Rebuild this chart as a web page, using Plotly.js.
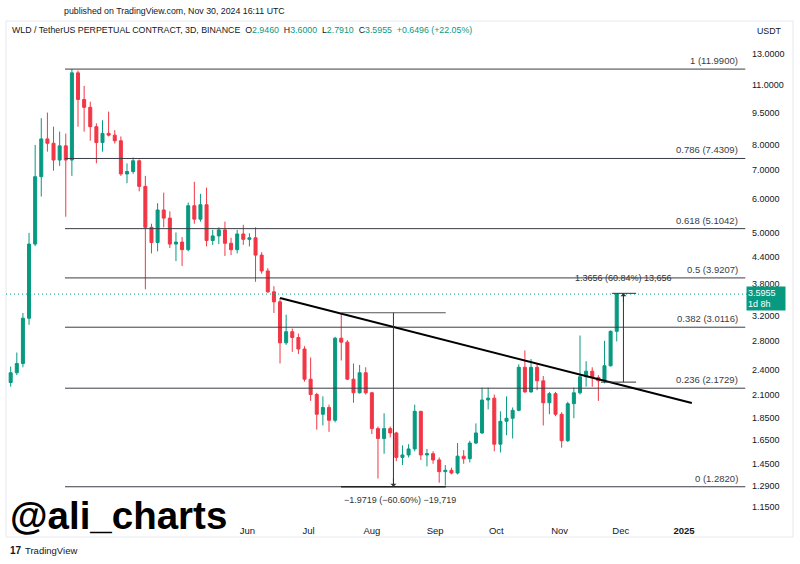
<!DOCTYPE html>
<html>
<head>
<meta charset="utf-8">
<script src="https://cdn.plot.ly/plotly-3.0.1.min.js"></script>
<style>
html,body{margin:0;padding:0;background:#fff;}
#chart{width:800px;height:564px;}
</style>
</head>
<body>
<div id="chart"></div>
<script>
// ---- Data (WLD/USDT perpetual, 3D candles) ----
const dates = [
 '2024-02-06','2024-02-09','2024-02-12','2024-02-15','2024-02-18','2024-02-21','2024-02-24','2024-02-27',
 '2024-03-01','2024-03-04','2024-03-07','2024-03-10','2024-03-13','2024-03-16','2024-03-19','2024-03-22',
 '2024-03-25','2024-03-28','2024-03-31','2024-04-03','2024-04-06','2024-04-09','2024-04-12','2024-04-15',
 '2024-04-18','2024-04-21','2024-04-24','2024-04-27','2024-04-30','2024-05-03','2024-05-06','2024-05-09',
 '2024-05-12','2024-05-15','2024-05-18','2024-05-21','2024-05-24','2024-05-27','2024-05-30','2024-06-02',
 '2024-06-05','2024-06-08','2024-06-11','2024-06-14','2024-06-17','2024-06-20','2024-06-23','2024-06-26',
 '2024-06-29','2024-07-02','2024-07-05','2024-07-08','2024-07-11','2024-07-14','2024-07-17','2024-07-20',
 '2024-07-23','2024-07-26','2024-07-29','2024-08-01','2024-08-04','2024-08-07','2024-08-10','2024-08-13',
 '2024-08-16','2024-08-19','2024-08-22','2024-08-25','2024-08-28','2024-08-31','2024-09-03','2024-09-06',
 '2024-09-09','2024-09-12','2024-09-15','2024-09-18','2024-09-21','2024-09-24','2024-09-27','2024-09-30',
 '2024-10-03','2024-10-06','2024-10-09','2024-10-12','2024-10-15','2024-10-18','2024-10-21','2024-10-24',
 '2024-10-27','2024-10-30','2024-11-02','2024-11-05','2024-11-08','2024-11-11','2024-11-14','2024-11-17',
 '2024-11-20','2024-11-23','2024-11-26','2024-11-29'
];
const openP = [
 2.24,2.36,2.48,3.16,4.70,6.74,8.25,8.06,7.37,7.95,
 7.37,11.75,10.19,9.77,8.81,8.09,8.50,8.42,8.17,6.84,
 6.93,7.34,6.40,5.14,4.74,5.64,5.40,4.70,4.75,4.56,
 5.77,5.37,5.80,4.79,4.91,5.07,4.72,4.56,4.96,4.82,
 4.86,4.43,4.07,3.64,3.45,2.77,2.94,2.85,2.68,2.28,
 2.10,1.89,1.96,1.83,2.84,2.78,2.28,2.12,2.36,2.12,
 1.75,1.66,1.75,1.71,1.50,1.52,1.57,1.92,1.52,1.53,
 1.48,1.39,1.40,1.38,1.51,1.49,1.62,1.71,2.04,2.06,
 1.61,1.82,1.85,1.93,2.43,2.13,2.43,2.26,2.01,2.11,
 1.89,1.64,2.00,2.12,2.31,2.38,2.30,2.26,2.45,2.946
];
const highP = [
 2.44,2.63,3.25,4.99,7.99,9.22,9.50,8.81,8.58,8.49,
 11.99,11.90,10.96,10.07,8.97,9.12,9.55,8.65,8.36,7.24,
 7.47,7.39,6.77,5.24,5.85,6.19,5.60,5.00,4.88,5.87,
 6.56,6.15,6.36,5.07,5.14,5.30,4.86,5.07,5.21,4.98,
 5.14,4.50,4.13,3.75,3.52,3.22,2.99,2.91,2.72,2.56,
 2.12,2.08,1.99,2.86,3.25,2.81,2.48,2.46,2.43,2.13,
 1.77,1.90,1.77,1.72,1.60,1.61,1.99,1.92,1.57,1.55,
 1.50,1.44,1.42,1.62,1.56,1.64,1.80,2.18,2.18,2.10,
 1.92,2.08,1.96,2.47,2.66,2.54,2.48,2.32,2.13,2.13,
 1.91,2.02,2.18,2.88,2.51,2.43,2.33,2.80,2.96,3.60
];
const lowP = [
 2.19,2.33,2.43,3.05,4.65,6.06,7.71,6.96,7.14,5.44,
 6.77,8.81,8.58,8.17,7.24,7.71,8.36,8.05,6.77,6.51,
 6.84,6.23,3.69,4.47,4.52,5.14,4.60,4.29,4.18,4.52,
 5.24,5.30,4.64,4.68,4.70,4.41,4.43,4.47,4.68,4.64,
 3.84,4.01,3.62,3.25,2.48,2.74,2.64,2.61,2.25,2.03,
 1.74,1.78,1.72,1.81,2.52,2.27,2.01,2.11,2.10,1.70,
 1.34,1.53,1.67,1.47,1.44,1.50,1.55,1.48,1.43,1.45,
 1.31,1.29,1.37,1.37,1.45,1.46,1.61,1.70,1.94,1.55,
 1.54,1.69,1.66,1.92,2.12,2.12,2.15,1.78,1.89,1.87,
 1.58,1.63,1.85,2.10,2.19,2.19,2.03,2.23,2.44,2.791
];
const closeP = [
 2.36,2.48,3.16,4.70,6.74,8.25,8.06,7.37,7.95,7.37,
 11.75,10.19,9.77,8.81,8.09,8.50,8.42,8.17,6.84,6.93,
 7.34,6.40,5.14,4.74,5.64,5.40,4.70,4.75,4.56,5.77,
 5.37,5.80,4.79,4.91,5.07,4.72,4.56,4.96,4.82,4.86,
 4.43,4.07,3.64,3.45,2.77,2.94,2.85,2.68,2.28,2.10,
 1.89,1.96,1.83,2.84,2.78,2.28,2.12,2.36,2.12,1.75,
 1.66,1.75,1.71,1.50,1.52,1.57,1.92,1.52,1.53,1.48,
 1.39,1.40,1.38,1.51,1.49,1.62,1.71,2.04,2.06,1.61,
 1.82,1.85,1.93,2.43,2.13,2.43,2.26,2.01,2.11,1.89,
 1.64,2.00,2.12,2.31,2.38,2.30,2.26,2.45,2.946,3.5955
];

// Fibonacci retracement
const fibLevels = ['1','0.786','0.618','0.5','0.382','0.236','0'];
const fibPrices = [11.99, 7.4309, 5.1042, 3.9207, 3.0116, 2.1729, 1.282];
const fibDates  = ['2024-03-03 15:00','2025-01-31 00:00'];

// Descending trendline
const trendDates  = ['2024-06-17 00:00','2025-01-04 19:00'];
const trendPrices = [3.52, 2.007];

// Price range tool 1 (drop)
const m1Dates  = ['2024-07-16 22:00','2024-09-06 05:00'];
const m1Mid    = '2024-08-11 14:00';
const m1Prices = [3.2539, 1.282];
const m1Label  = '\u22121.9719 (\u221260.60%) \u221219,719';
// Price range tool 2 (rise)
const m2BotDates = ['2024-11-21 07:00','2024-12-08 12:00'];
const m2TopDates = ['2024-11-26 17:00','2024-12-08 12:00'];
const m2Mid      = '2024-12-02 07:00';
const m2Prices   = [2.2446, 3.6102];
const m2Label    = '1.3656 (60.84%) 13,656';

const lastPrice = 3.5955;

// Axis ticks
const yTicks = [13, 11, 9.5, 8, 7, 6, 5, 4.4, 3.8, 3.2, 2.8, 2.4, 2.1, 1.85, 1.65, 1.45, 1.29, 1.15];
const xTickVals = ['2024-06-01','2024-07-01','2024-08-01','2024-09-01','2024-10-01','2024-11-01','2024-12-01','2025-01-01'];
const xTickText = ['Jun','Jul','Aug','Sep','Oct','Nov','Dec','<b>2025</b>'];

// ---- Layout geometry ----
const W = 800, H = 564;
const M = {l: 6, r: 52, t: 21, b: 46};
const PW = W - M.l - M.r, PH = H - M.t - M.b;
const px = x => (x - M.l) / PW;          // pixel -> paper x
const py = y => (H - M.b - y) / PH;      // pixel -> paper y
const xRange = ['2024-02-03 17:00', '2025-02-01 08:00'];
const yRange = [Math.log10(1.0846), Math.log10(15.51)];

const UP = '#089981', DN = '#f23645', INK = '#131722';
const FONT = 'Liberation Sans, Arial, sans-serif';

const traces = [];
traces.push({
  type: 'candlestick', x: dates, open: openP, high: highP, low: lowP, close: closeP,
  increasing: {line: {color: UP, width: 1}, fillcolor: UP},
  decreasing: {line: {color: DN, width: 1}, fillcolor: DN},
  whiskerwidth: 0, hoverinfo: 'skip', showlegend: false
});
// current price dotted line
traces.push({type:'scatter', mode:'lines', x: xRange, y:[lastPrice,lastPrice],
  line:{color:UP, width:1, dash:'1px,3px'}, hoverinfo:'skip', showlegend:false});
// fib lines
fibPrices.forEach(p => traces.push({type:'scatter', mode:'lines', x: fibDates, y:[p,p],
  line:{color:'#3a3d45', width:1}, hoverinfo:'skip', showlegend:false}));
// trendline
traces.push({type:'scatter', mode:'lines', x: trendDates, y: trendPrices,
  line:{color:'#000', width:2}, hoverinfo:'skip', showlegend:false});
// measure 1
traces.push({type:'scatter', mode:'lines', x: m1Dates, y:[m1Prices[0],m1Prices[0]],
  line:{color:'#555', width:1}, hoverinfo:'skip', showlegend:false});
traces.push({type:'scatter', mode:'lines', x: m1Dates, y:[m1Prices[1],m1Prices[1]],
  line:{color:'#222', width:1.5}, hoverinfo:'skip', showlegend:false});
traces.push({type:'scatter', mode:'lines', x: [m1Mid,m1Mid], y: m1Prices,
  line:{color:'#333', width:1}, hoverinfo:'skip', showlegend:false});
// measure 2
traces.push({type:'scatter', mode:'lines', x: m2BotDates, y:[m2Prices[0],m2Prices[0]],
  line:{color:'#333', width:1}, hoverinfo:'skip', showlegend:false});
traces.push({type:'scatter', mode:'lines', x: m2TopDates, y:[m2Prices[1],m2Prices[1]],
  line:{color:'#333', width:1}, hoverinfo:'skip', showlegend:false});
traces.push({type:'scatter', mode:'lines', x: [m2Mid,m2Mid], y: m2Prices,
  line:{color:'#333', width:1}, hoverinfo:'skip', showlegend:false});

const ann = [];
const txt = (x, y, text, size, opts) => Object.assign({
  xref:'paper', yref:'paper', x: px(x), y: py(y), text: text, showarrow:false,
  xanchor:'center', yanchor:'middle', font:{family:FONT, size:size, color:INK}
}, opts || {});
// fib labels
fibPrices.forEach((p,i) => ann.push({
  xref:'paper', yref:'y', x: px(740), y: Math.log10(p), xanchor:'right', yanchor:'bottom', yshift: 1,
  text: fibLevels[i] + ' (' + p.toFixed(4) + ')', showarrow:false,
  font:{family:FONT, size:9.5, color:'#3a3d45'}
}));
// arrows of measure tools
ann.push({xref:'x', yref:'y', x: m1Mid, y: Math.log10(m1Prices[1]), ax:0, ay:-10,
  text:'', showarrow:true, arrowhead:1, arrowsize:1, arrowwidth:1, arrowcolor:'#333'});
ann.push({xref:'x', yref:'y', x: m2Mid, y: Math.log10(m2Prices[1]), ax:0, ay:10,
  text:'', showarrow:true, arrowhead:1, arrowsize:1, arrowwidth:1, arrowcolor:'#333'});
// measure labels
ann.push(txt(400, 500, m1Label, 9, {font:{family:FONT, size:9, color:'#333'}}));
ann.push(txt(623, 278, m2Label, 9, {font:{family:FONT, size:9, color:'#333'}}));
// header
ann.push(txt(62, 11, 'published on TradingView.com, Nov 30, 2024 16:11 UTC', 8.8, {xanchor:'left'}));
const g = s => '<span style="color:' + UP + '">' + s + '</span>';
ann.push(txt(10, 30, 'WLD / TetherUS PERPETUAL CONTRACT, 3D, BINANCE  O' + g('2.9460') + '  H' + g('3.6000') +
       '  L' + g('2.7910') + '  C' + g('3.5955') + '  ' + g('+0.6496 (+22.05%)'), 8.8, {xanchor:'left'}));
ann.push(txt(755, 31, 'USDT', 8.8, {xanchor:'left'}));
// last price tag
ann.push(txt(746, 298, '3.5955<br>1d 8h', 9, {xanchor:'left', align:'left', bgcolor:UP, borderpad:1,
  width:36, height:21, font:{family:FONT, size:9, color:'#ffffff'}}));
// watermark
ann.push(txt(8, 515, '<b>@ali_charts</b>', 38.5, {xanchor:'left', font:{family:FONT, size:38.5, color:'#000'}}));
// TradingView footer
ann.push(txt(8, 550, '<b>17</b>', 10, {xanchor:'left'}));
ann.push(txt(23, 550, 'TradingView', 9.5, {xanchor:'left'}));

const shapes = [
  {type:'rect', xref:'paper', yref:'paper', x0: px(6), x1: px(793), y0: py(537), y1: py(21),
   line:{color:'#e6e8ee', width:1}, fillcolor:'rgba(0,0,0,0)', layer:'below'}
];

const layout = {
  width: W, height: H, margin: M, autosize: false,
  paper_bgcolor:'#ffffff', plot_bgcolor:'#ffffff',
  showlegend:false, hovermode:false, dragmode:false,
  font:{family:FONT, size:9.5, color:INK},
  xaxis:{type:'date', range:xRange, showgrid:false, zeroline:false, showline:false,
    tickvals:xTickVals, ticktext:xTickText, ticks:'', ticklabelstandoff:5,
    tickfont:{family:FONT, size:9.5, color:INK},
    rangeslider:{visible:false}, fixedrange:true},
  yaxis:{type:'log', range:yRange, side:'right', showgrid:false, zeroline:false, showline:false,
    tickvals:yTicks, ticktext:yTicks.map(v => v.toFixed(4)), ticks:'', ticklabelstandoff:3,
    tickfont:{family:FONT, size:9, color:INK}, fixedrange:true},
  annotations: ann, shapes: shapes
};

Plotly.newPlot('chart', traces, layout, {staticPlot:true, displayModeBar:false});
</script>
</body>
</html>
